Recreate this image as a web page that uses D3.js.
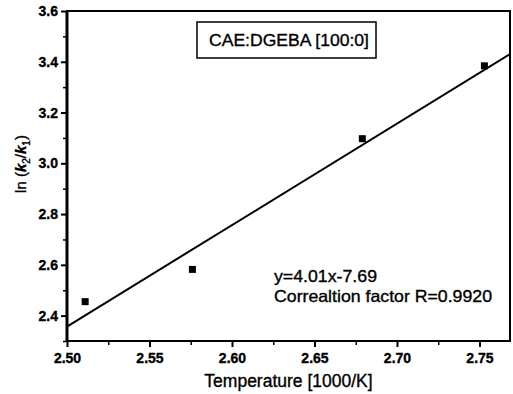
<!DOCTYPE html>
<html>
<head>
  <title>ln(k2/k1) vs temperature</title>
  <script src="https://d3js.org/d3.v7.min.js"></script>
  <style>
    body { margin: 0; background: #fff; }
    text { font-family: "Liberation Sans", Arial, sans-serif; fill: #000; stroke: #000; stroke-width: 0.35px; }
  </style>
</head>
<body>
<div id="chart"></div>
<script type="text/javascript">

  // measured points
  var tempX = [2.511, 2.576, 2.679, 2.753];
  var lnY = [2.455, 2.582, 3.097, 3.384];

  // fitted line as drawn (end points)
  var fitX = [2.50, 2.7685];
  var fitY = [2.357, 3.43];

  var xTicks = [2.50, 2.55, 2.60, 2.65, 2.70, 2.75];
  var yTicks = [2.4, 2.6, 2.8, 3.0, 3.2, 3.4, 3.6];
  var legendText = "CAE:DGEBA [100:0]";
  var noteLines = ["y=4.01x-7.69", "Correaltion factor R=0.9920"];

  var W = 513, H = 394;
  var m = {left: 67, top: 11, right: 3, bottom: 53};
  var iw = W - m.left - m.right, ih = H - m.top - m.bottom;

  var svg = d3.select("#chart").append("svg")
    .attr("width", W).attr("height", H);

  var x = d3.scaleLinear().domain([2.5, 2.7685]).range([0, iw]);
  var y = d3.scaleLinear().domain([2.3, 3.6]).range([ih, 0]);

  var g = svg.append("g").attr("transform", "translate(" + m.left + "," + m.top + ")");

  // minor ticks first
  var xMinor = d3.range(2.5, 2.77, 0.025).filter(function(v) { return Math.round(v * 1000) % 50 != 0; });
  var yMinor = d3.range(2.3, 3.61, 0.1).filter(function(v) { return Math.round(v * 10) % 2 != 0; });

  g.append("g").attr("transform", "translate(0," + ih + ")")
    .call(d3.axisBottom(x).tickValues(xMinor).tickSize(4).tickFormat(""))
    .call(function(s) { s.select(".domain").remove(); s.selectAll("line").attr("stroke-width", 1.5); });
  g.append("g")
    .call(d3.axisLeft(y).tickValues(yMinor).tickSize(4).tickFormat(""))
    .call(function(s) { s.select(".domain").remove(); s.selectAll("line").attr("stroke-width", 1.5); });

  var xAxis = g.append("g").attr("transform", "translate(0," + ih + ")")
    .call(d3.axisBottom(x).tickValues(xTicks).tickSize(6).tickPadding(6).tickFormat(d3.format(".2f")));
  var yAxis = g.append("g")
    .call(d3.axisLeft(y).tickValues(yTicks).tickSize(6).tickPadding(3).tickFormat(d3.format(".1f")));

  [xAxis, yAxis].forEach(function(a) {
    a.select(".domain").remove();
    a.selectAll("line").attr("stroke-width", 2);
    a.selectAll("text").attr("font-size", 14).attr("font-weight", "bold")
      .style("font-family", "'Liberation Sans', Arial, sans-serif");
  });

  // frame
  g.append("rect").attr("width", iw).attr("height", ih)
    .attr("fill", "none").attr("stroke", "#000").attr("stroke-width", 2);
  g.append("line").attr("x1", 0).attr("x2", 0).attr("y1", 0).attr("y2", ih)
    .attr("stroke", "#000").attr("stroke-width", 3);

  // fit line
  var line = d3.line().x(function(d) { return x(d[0]); }).y(function(d) { return y(d[1]); });
  g.append("path").datum(d3.zip(fitX, fitY)).attr("d", line)
    .attr("fill", "none").attr("stroke", "#000").attr("stroke-width", 2);

  // points
  g.selectAll(".pt").data(d3.zip(tempX, lnY)).enter().append("rect")
    .attr("class", "pt")
    .attr("x", function(d) { return x(d[0]) - 3.5; })
    .attr("y", function(d) { return y(d[1]) - 3.5; })
    .attr("width", 7).attr("height", 7).attr("fill", "#000");

  // legend box
  svg.append("rect").attr("x", 197).attr("y", 22).attr("width", 179).attr("height", 36)
    .attr("fill", "#fff").attr("stroke", "#000").attr("stroke-width", 1.5);
  svg.append("text").attr("x", 209).attr("y", 46)
    .attr("font-size", 17).attr("textLength", 160).attr("lengthAdjust", "spacingAndGlyphs")
    .text(legendText);

  // equation text
  var noteW = [103, 218];
  svg.selectAll(".note").data(noteLines).enter().append("text")
    .attr("class", "note")
    .attr("x", 274).attr("y", function(d, i) { return 282 + i * 20; })
    .attr("font-size", 16.5)
    .attr("textLength", function(d, i) { return noteW[i]; })
    .attr("lengthAdjust", "spacingAndGlyphs")
    .text(function(d) { return d; });

  // axis titles
  svg.append("text").attr("x", m.left + iw / 2).attr("y", 387)
    .attr("text-anchor", "middle").attr("font-size", 17.5).text("Temperature [1000/K]");

  var yt = svg.append("text").attr("transform", "translate(26,164) rotate(-90)")
    .attr("text-anchor", "middle").attr("font-size", 15);
  yt.append("tspan").text("ln (");
  yt.append("tspan").attr("font-style", "italic").attr("font-weight", "bold").text("k");
  yt.append("tspan").attr("font-size", 10).attr("dy", 4).text("2");
  yt.append("tspan").attr("dy", -4).text("/");
  yt.append("tspan").attr("font-style", "italic").attr("font-weight", "bold").text("k");
  yt.append("tspan").attr("font-size", 10).attr("dy", 4).text("1");
  yt.append("tspan").attr("dy", -4).text(")");

</script>
</body>
</html>
